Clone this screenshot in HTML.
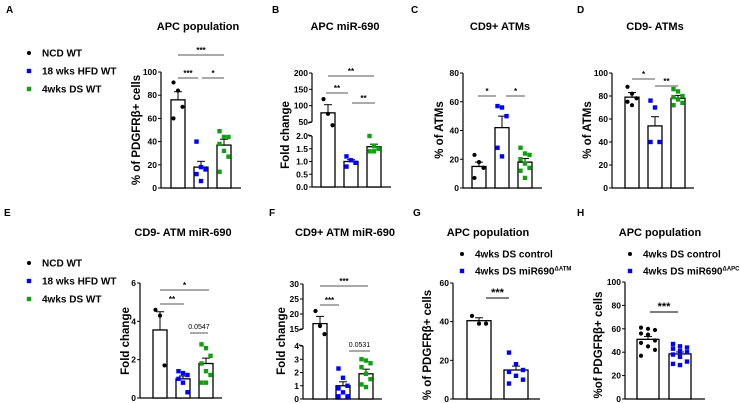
<!DOCTYPE html>
<html><head><meta charset="utf-8">
<style>
html,body{margin:0;padding:0;background:#fff;}
svg{display:block;font-family:"Liberation Sans",Arial,sans-serif;}
</style></head>
<body>
<svg id="fig" width="740" height="403" viewBox="0 0 740 403" xmlns="http://www.w3.org/2000/svg"></svg>
<script>
// ---- data ----
const groupNames = ["NCD WT","18 wks HFD WT","4wks DS WT"];
const aMeans=[76,18,37], aSem=[7,5,5];
const aPts=[[91,84,70,60],[40,18,16,12,6],[49,44,44,38,32,27,14]];
const bMeans=[78,1.0,1.58], bSem=[25,0.07,0.1];
const bPts=[[120,75,40],[1.2,1.05,0.95,0.8],[2.0,1.6,1.5,1.4,1.4]];
const cMeans=[15,42,18], cSem=[3,8,2.5];
const cPts=[[23,18,14,7],[57,56,50,28,22],[28,24,23,20,17,14,12,7]];
const dMeans=[79,54,78], dSem=[4,8,2.5];
const dPts=[[88,82,78,75,72],[76,70,40,40],[86,84,80,79,77,74,72]];
const eMeans=[3.55,1.0,1.8], eSem=[0.95,0.15,0.28];
const ePts=[[4.6,4.3,1.7],[1.4,1.3,1.2,1.0,0.8,0.3],[2.8,2.6,2.2,1.8,1.4,1.2,0.8,0.8]];
const fMeans=[16.8,1.0,1.9], fSem=[2.4,0.3,0.35];
const fPts=[[21,16,13.3],[2.3,1.6,1.0,0.8,0.5,0.2,0.2],[3.0,2.9,2.7,2.4,1.9,1.5,1.1,0.9]];
const gMeans=[40.5,15], gSem=[1.5,2];
const gPts=[[43,39,39],[24,18,15,14,12,10,8]];
const hMeans=[51,38.5], hSem=[2.5,1.7];
const hPts=[[61,60,59,56,55,50,48,45,42,37],[47,45,44,43,41,40,38,36,32,30,29]];
const aTicks=[0,20,40,60,80,100], bTicksLo=[0,0.5,1.0,1.5,2.0], bTicksHi=[50,100,150,200];
const cTicks=[0,20,40,60,80], dTicks=[0,20,40,60,80,100], eTicks=[0,2,4,6];
const fTicksLo=[0,1,2,3,4], fTicksHi=[15,20,25,30], gTicks=[0,20,40,60], hTicks=[0,20,40,60,80,100];

const NS="http://www.w3.org/2000/svg";
const svg=document.getElementById('fig');
function el(tag,attrs,parent){const e=document.createElementNS(NS,tag);for(const k in attrs)e.setAttribute(k,attrs[k]);(parent||svg).appendChild(e);return e;}
function txt(x,y,s,size,anchor,weight,parent){const t=el('text',{x:x,y:y,'font-size':size,'text-anchor':anchor||'start','font-weight':weight||'bold',fill:'#000'},parent);t.textContent=s;return t;}

const colors=['#000','#0000ff','#119e11'];

function panel(p){
  const g=el('g',{});
  
  
  const Y=v=>{
    if(p.broken){
      if(v<=p.loMax) return p.y0-(v/p.loMax)*(p.y0-p.loTop);
      return p.hiBot-(v-p.hiMin)/(p.hiMax-p.hiMin)*(p.hiBot-p.hiTop);
    }
    return p.y0-(v/p.max)*(p.y0-p.yTop);
  };
  const t=txt(p.titleX,p.titleY,p.title,11,'middle','bold',g);
  
  
  const L=txt(p.letter[1],p.letter[2],p.letter[0],10,'start','bold',g);
  
  
  const yl=txt(0,0,p.ylabel,11.5,'middle','bold',g);
  yl.setAttribute('transform',`translate(${p.ylx},${p.yly}) rotate(-90)`);
  
  
  const ax=el('g',{stroke:'#000','stroke-width':1.2,fill:'none'},g);
  
  
  if(p.broken){
    el('line',{x1:p.ax,y1:p.y0,x2:p.ax,y2:p.loTop},ax);
    el('line',{x1:p.ax,y1:p.hiBot,x2:p.ax,y2:p.hiTop},ax);
    el('line',{x1:p.ax-4,y1:p.hiBot+1,x2:p.ax,y2:p.hiBot},ax);
    el('line',{x1:p.ax-4,y1:p.loTop-1,x2:p.ax,y2:p.loTop},ax);
  } else el('line',{x1:p.ax,y1:p.y0,x2:p.ax,y2:p.yTop},ax);
  const xa=el('line',{x1:p.ax,y1:p.y0,x2:p.axEnd,y2:p.y0,stroke:'#000','stroke-width':1.2},g);
  
  
  p.ticks.forEach(v=>{
    const y=Y(v);
    el('line',{x1:p.ax-3,y1:y,x2:p.ax,y2:y,stroke:'#000','stroke-width':1},g);
    const tl=txt(p.ax-4,y+3,p.fmt?p.fmt(v):String(v),8.5,'end','bold',g);
    
    
  });
  p.means.forEach((m,i)=>{
    const cx=p.bars[i], w=p.bw, ym=Y(m);
    const r=el('rect',{x:cx-w/2,y:ym,width:w,height:p.y0-ym,fill:'#fff',stroke:'#000','stroke-width':1.3},g);
    
    
    const ye=Y(m+p.sem[i]);
    el('line',{x1:cx,y1:ym,x2:cx,y2:ye,stroke:'#000','stroke-width':1},g);
    el('line',{x1:cx-4,y1:ye,x2:cx+4,y2:ye,stroke:'#000','stroke-width':1},g);
  });
  p.pts.forEach((arr,i)=>{
    const cx=p.bars[i];
    const n=arr.length;
    const sp=p.bw>18?7:4.5;
    arr.forEach((v,j)=>{
      const off=n>1?((j%3)-1)*sp:0;
      const y=Y(v);
      let m;
      if(i===0) m=el('circle',{cx:cx+off,cy:y,r:2.1,fill:colors[0]},g);
      else m=el('rect',{x:cx+off-2.2,y:y-2.2,width:4.4,height:4.4,fill:colors[p.colorIdx?p.colorIdx[i]:i]},g);
      
      
    });
  });
  p.sig.forEach(s=>{
    const ln=el('line',{x1:s[0],y1:s[2],x2:s[1],y2:s[2],stroke:'#555','stroke-width':s[4]?1.6:0.9},g);
    
    
    const isNum=/\d/.test(s[3]);
    const st=txt((s[0]+s[1])/2,s[2]-(isNum?4:2),s[3],isNum?7:(s[4]?11:8),'middle',isNum?'normal':'bold',g);
    
    
  });
}

function legend(x,y,names,gap,sup){
  const g=el('g',{});
  
  
  names.forEach((n,i)=>{
    const yy=y+i*gap;
    let m;
    if(i===0) m=el('circle',{cx:x,cy:yy,r:2,fill:'#000'},g);
    else m=el('rect',{x:x-2.2,y:yy-2.2,width:4.4,height:4.4,fill:colors[sup?1:i]},g);
    const t=txt(x+13,yy+3.5,n,10,'start','bold',g);
    if(sup&&i===1){const ts=el('tspan',{'font-size':6,dy:-4},t);ts.textContent=sup;}
    
    
  });
}

legend(29,53,groupNames,18);
legend(29,263,groupNames,18);
legend(462,254,["4wks DS control","4wks DS miR690"],17,"ΔATM");
legend(630,254,["4wks DS control","4wks DS miR690"],17,"ΔAPC");

panel({name:'panel-a',letter:['A',6,13],title:'APC population',titleX:198,titleY:30,ylabel:'% of PDGFRβ+ cells',ylx:140,yly:130,
  ax:161,axEnd:241,y0:188,yTop:72,max:100,ticks:aTicks,bars:[178,201,224],bw:14,means:aMeans,sem:aSem,pts:aPts,
  sig:[[178,224,55,'***'],[178,198,78,'***'],[202,224,78,'*']]});
panel({name:'panel-b',letter:['B',272,13],title:'APC miR-690',titleX:345,titleY:30,ylabel:'Fold change',ylx:289,yly:135,
  ax:312,axEnd:391,y0:187,broken:true,loMax:2,loTop:136,hiMin:50,hiMax:200,hiBot:122,hiTop:73,
  ticks:bTicksLo.concat(bTicksHi),fmt:v=>v<=2?v.toFixed(1):String(v),bars:[328,351,374],bw:14,means:bMeans,sem:bSem,pts:bPts,
  sig:[[328,374,76,'**'],[326,348,93,'**'],[352,375,103,'**']]});
panel({name:'panel-c',letter:['C',411,13],title:'CD9+ ATMs',titleX:500,titleY:30,ylabel:'% of ATMs',ylx:443,yly:130,
  ax:463,axEnd:542,y0:188,yTop:73,max:80,ticks:cTicks,bars:[479,502,525],bw:14,means:cMeans,sem:cSem,pts:cPts,
  sig:[[478,496,96,'*'],[506,525,96,'*']]});
panel({name:'panel-d',letter:['D',577,13],title:'CD9- ATMs',titleX:655,titleY:30,ylabel:'% of ATMs',ylx:591,yly:130,
  ax:612,axEnd:694,y0:188,yTop:73,max:100,ticks:dTicks,bars:[632,655,678],bw:14,means:dMeans,sem:dSem,pts:dPts,
  sig:[[632,655,79,'*'],[655,678,86,'**']]});
panel({name:'panel-e',letter:['E',4,216],title:'CD9- ATM miR-690',titleX:183,titleY:236,ylabel:'Fold change',ylx:129,yly:341,
  ax:140,axEnd:222,y0:398,yTop:283,max:6,ticks:eTicks,bars:[160,183,206],bw:14,means:eMeans,sem:eSem,pts:ePts,
  sig:[[160,209,290,'*'],[160,184,304,'**'],[190,208,333,'0.0547']]});
panel({name:'panel-f',letter:['F',269,216],title:'CD9+ ATM miR-690',titleX:345,titleY:236,ylabel:'Fold change',ylx:285,yly:341,
  ax:303,axEnd:382,y0:399,broken:true,loMax:4,loTop:346,hiMin:15,hiMax:30,hiBot:329,hiTop:284,
  ticks:fTicksLo.concat(fTicksHi),bars:[320,343,366],bw:14,means:fMeans,sem:fSem,pts:fPts,
  sig:[[320,368,286,'***'],[320,339,305,'***'],[349,370,351,'0.0531']]});
panel({name:'panel-g',letter:['G',413,216],title:'APC population',titleX:488,titleY:236,ylabel:'% of PDGFRβ+ cells',ylx:431,yly:345,
  ax:453,axEnd:540,y0:399,yTop:283,max:60,ticks:gTicks,bars:[479,516],bw:24,means:gMeans,sem:gSem,pts:gPts,colorIdx:[0,1],
  sig:[[486,509,298,'***',1]]});
panel({name:'panel-h',letter:['H',577,216],title:'APC population',titleX:660,titleY:236,ylabel:'%of PDGFRβ+ cells',ylx:602,yly:345,
  ax:625,axEnd:705,y0:399,yTop:282,max:100,ticks:hTicks,bars:[648,680],bw:22,means:hMeans,sem:hSem,pts:hPts,colorIdx:[0,1],
  sig:[[650,678,312,'***',1]]});
</script>
</body></html>
